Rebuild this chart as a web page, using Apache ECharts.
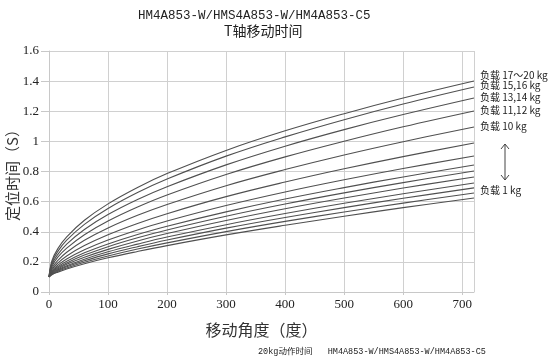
<!DOCTYPE html>
<html><head><meta charset="utf-8">
<script src="https://cdn.jsdelivr.net/npm/echarts@6/dist/echarts.min.js"></script>
<style>html,body{margin:0;padding:0;background:#fff}#c{width:550px;height:357px}</style>
</head><body><div id="c"></div>
<script>
const angles = [0, 5, 15, 30, 60, 100, 150, 200, 300, 400, 500, 600, 720];
const load1  = [0.10, 0.115, 0.132, 0.153, 0.188, 0.227, 0.269, 0.308, 0.379, 0.443, 0.503, 0.560, 0.624];
const load2  = [0.10, 0.117, 0.137, 0.160, 0.197, 0.239, 0.285, 0.326, 0.401, 0.469, 0.531, 0.590, 0.657];
const load3  = [0.10, 0.120, 0.142, 0.167, 0.207, 0.253, 0.301, 0.345, 0.424, 0.495, 0.560, 0.622, 0.691];
const load4  = [0.10, 0.122, 0.147, 0.174, 0.218, 0.267, 0.318, 0.365, 0.447, 0.521, 0.589, 0.652, 0.724];
const load5  = [0.10, 0.126, 0.153, 0.184, 0.231, 0.283, 0.339, 0.388, 0.475, 0.553, 0.624, 0.690, 0.764];
const load6  = [0.10, 0.130, 0.160, 0.193, 0.245, 0.301, 0.360, 0.412, 0.503, 0.584, 0.658, 0.726, 0.803];
const load7  = [0.10, 0.134, 0.168, 0.204, 0.260, 0.319, 0.382, 0.437, 0.532, 0.617, 0.693, 0.764, 0.843];
const load8  = [0.10, 0.140, 0.178, 0.219, 0.280, 0.345, 0.412, 0.471, 0.574, 0.664, 0.745, 0.820, 0.903];
const load9  = [0.10, 0.149, 0.192, 0.239, 0.308, 0.380, 0.455, 0.520, 0.633, 0.730, 0.818, 0.899, 0.989];
const load10 = [0.10, 0.159, 0.210, 0.264, 0.343, 0.425, 0.509, 0.581, 0.706, 0.813, 0.910, 0.998, 1.096];
const load11_12 = [0.10, 0.171, 0.231, 0.291, 0.380, 0.471, 0.564, 0.644, 0.780, 0.897, 1.001, 1.097, 1.202];
const load13_14 = [0.10, 0.184, 0.250, 0.318, 0.415, 0.514, 0.614, 0.699, 0.844, 0.968, 1.078, 1.178, 1.288];
const load15_16 = [0.10, 0.197, 0.270, 0.344, 0.449, 0.554, 0.660, 0.750, 0.902, 1.030, 1.144, 1.248, 1.361];
const load17_20 = [0.10, 0.208, 0.288, 0.366, 0.476, 0.585, 0.694, 0.786, 0.940, 1.070, 1.184, 1.288, 1.401];
const seriesNames = ['1 kg','2 kg','3 kg','4 kg','5 kg','6 kg','7 kg','8 kg','9 kg','10 kg','11,12 kg','13,14 kg','15,16 kg','17～20 kg'];
const seriesValues = [load1, load2, load3, load4, load5, load6, load7, load8, load9, load10, load11_12, load13_14, load15_16, load17_20];
const loadLabels = ['负载 17～20 kg', '负载 15,16 kg', '负载 13,14 kg', '负载 11,12 kg', '负载 10 kg', '负载 1 kg'];
const yTicks = [0, 0.2, 0.4, 0.6, 0.8, 1, 1.2, 1.4, 1.6];
const xTicks = [0, 100, 200, 300, 400, 500, 600, 700];

const chart = echarts.init(document.getElementById('c'), null, {renderer: 'canvas'});
const serifNum = '"Liberation Serif", "DejaVu Serif", serif';
const cjk = '"Noto Sans CJK SC", "Noto Sans", sans-serif';
const labelY = [76, 86, 98, 111, 127, 191];

chart.setOption({
  animation: false,
  backgroundColor: '#fff',
  title: [{
    text: 'HM4A853-W/HMS4A853-W/HM4A853-C5',
    left: 133, top: 4,
    textStyle: {fontFamily: '"Liberation Mono", ' + cjk, fontSize: 12.5, fontWeight: 'normal', color: '#222'}
  }, {
    text: 'T轴移动时间',
    left: 219, top: 19,
    textStyle: {fontFamily: cjk, fontSize: 14, fontWeight: 'normal', color: '#222'}
  }],
  grid: {left: 49, right: 76, top: 51, bottom: 65, outerBoundsMode: 'none', containLabel: false},
  xAxis: {
    type: 'value', min: 0, max: 720, interval: 100,
    name: '移动角度（度）', nameLocation: 'middle', nameGap: 30, nameMoveOverlap: false,
    nameTextStyle: {fontFamily: cjk, fontSize: 16, color: '#333'},
    axisLine: {show: true, lineStyle: {color: '#c8c8c8'}},
    axisTick: {show: true, length: 3, lineStyle: {color: '#c8c8c8'}},
    axisLabel: {fontFamily: serifNum, fontSize: 13, color: '#222', margin: 6, showMaxLabel: false,
      formatter: v => xTicks.includes(v) ? String(v) : ''},
    splitLine: {show: true, lineStyle: {color: '#d0d0d0', width: 1}}
  },
  yAxis: {
    type: 'value', min: 0, max: 1.6, interval: 0.2,
    name: '定位时间（S）', nameLocation: 'middle', nameGap: 29, nameRotate: 90, nameMoveOverlap: false,
    nameTextStyle: {fontFamily: cjk, fontSize: 15, color: '#333'},
    axisLine: {show: true, lineStyle: {color: '#c8c8c8'}},
    axisTick: {show: true, length: 8, lineStyle: {color: '#c8c8c8'}},
    axisLabel: {fontFamily: serifNum, fontSize: 13, color: '#222', margin: 10,
      formatter: v => { const t = yTicks.find(k => Math.abs(k - v) < 1e-6); return t === undefined ? '' : String(t); }},
    splitLine: {show: true, lineStyle: {color: '#d0d0d0', width: 1}}
  },
  series: seriesValues.map((vals, i) => ({
    name: seriesNames[i], type: 'line', smooth: 0.4, showSymbol: false,
    lineStyle: {color: '#505050', width: 1.1},
    data: angles.map((a, j) => [a, vals[j]])
  })),
  graphic: [
    ...loadLabels.map((t, i) => ({
      type: 'text', left: 480, top: labelY[i] - 6,
      style: {text: t, fontFamily: cjk, fontSize: 10, fill: '#222'}
    })),
    {type: 'line', shape: {x1: 505, y1: 144, x2: 505, y2: 180}, style: {stroke: '#444', lineWidth: 1}},
    {type: 'polyline', shape: {points: [[501, 149], [505, 144], [509, 149]]}, style: {stroke: '#444', lineWidth: 1, fill: null}},
    {type: 'polyline', shape: {points: [[501, 175], [505, 180], [509, 175]]}, style: {stroke: '#444', lineWidth: 1, fill: null}},
    {type: 'text', left: 258, top: 347,
      style: {text: '20kg动作时间   HM4A853-W/HMS4A853-W/HM4A853-C5', fontFamily: '"Liberation Mono", ' + cjk, fontSize: 8.5, fill: '#222'}}
  ]
});
</script></body></html>
